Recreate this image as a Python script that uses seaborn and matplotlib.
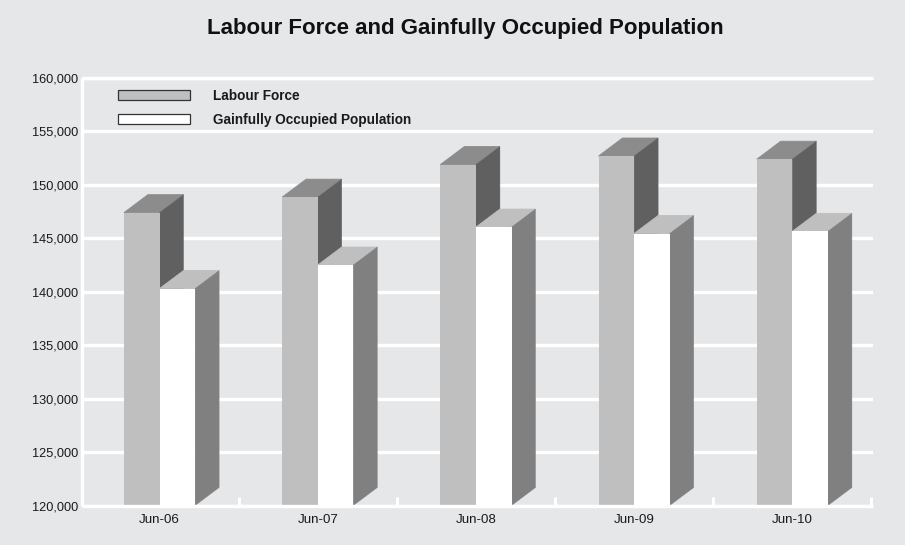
import matplotlib
matplotlib.use("Agg")
import matplotlib.pyplot as plt
from matplotlib.patches import Patch, Polygon
import pandas as pd
import seaborn as sns

periods = ["Jun-06", "Jun-07", "Jun-08", "Jun-09", "Jun-10"]
labour_force = [147400, 148850, 151900, 152700, 152400]
occupied = [140300, 142500, 146050, 145450, 145650]
series_names = ["Labour Force", "Gainfully Occupied Population"]

BG = "#e6e7e9"
FRONT = "#bfbfbf"
DEPTH_PX = (24, 18)

sns.set_theme(style="white")
plt.rcParams["font.family"] = ["Liberation Sans", "DejaVu Sans"]

df = pd.DataFrame({
    "period": periods * 2,
    "value": labour_force + occupied,
    "series": [series_names[0]] * 5 + [series_names[1]] * 5,
})

fig = plt.figure(figsize=(9.05, 5.45), dpi=100, facecolor=BG)
W, H = 905, 545
ax = fig.add_axes([82 / W, 1 - 505.5 / H, (873 - 82) / W, (505.5 - 78) / H], facecolor=BG)

sns.barplot(data=df, x="period", y="value", hue="series", hue_order=series_names,
            palette=[FRONT, "#ffffff"], saturation=1, width=0.45, linewidth=0,
            legend=False, ax=ax, zorder=3)
ax.set_xlim(-0.49, 4.51)
ax.set_ylim(120000, 160000)
ax.set_xlabel("")
ax.set_ylabel("")

dx = DEPTH_PX[0] * 5.0 / 791
dy = DEPTH_PX[1] * 40000 / 427.5


def extrude(bar, top_color, side_color, z):
    x0, x1 = bar.get_x(), bar.get_x() + bar.get_width()
    y0, y1 = 120000, bar.get_y() + bar.get_height()
    ax.add_patch(Polygon([(x0, y1), (x1, y1), (x1 + dx, y1 + dy), (x0 + dx, y1 + dy)],
                         closed=True, fc=top_color, ec=top_color, lw=0.6, zorder=z))
    ax.add_patch(Polygon([(x1, y0), (x1 + dx, y0 + dy), (x1 + dx, y1 + dy), (x1, y1)],
                         closed=True, fc=side_color, ec=side_color, lw=0.3, zorder=z))


for bar in ax.containers[0]:
    extrude(bar, "#8c8c8c", "#606060", 2.5)
for bar in ax.containers[1]:
    extrude(bar, FRONT, "#808080", 3.5)
for bar in ax.containers[1]:
    bar.set_zorder(4)

ax.set_yticks(range(120000, 160001, 5000))
ax.set_yticklabels([f"{v:,}" for v in range(120000, 160001, 5000)])
ax.set_xticks([i + 0.5 for i in range(5)], minor=True)
ax.grid(axis="y", color="white", linewidth=2.4, zorder=1)
ax.set_axisbelow(True)
ax.tick_params(axis="both", which="major", length=0, labelsize=9.2, labelcolor="#1a1a1a")
ax.tick_params(axis="y", pad=2.5)
ax.tick_params(axis="x", pad=6, labelsize=9.6)
ax.tick_params(axis="x", which="minor", bottom=True, direction="in", length=6.5, width=2.2, color="white")
for s in ["left", "bottom", "top"]:
    ax.spines[s].set_color("white")
    ax.spines[s].set_linewidth(2.4)
    ax.spines[s].set_capstyle("butt")
    ax.spines[s].set_zorder(5)
ax.spines["right"].set_visible(False)

handles = [Patch(fc=FRONT, ec="#333333", lw=0.9, label=series_names[0]),
           Patch(fc="white", ec="#333333", lw=0.9, label=series_names[1])]
leg = ax.legend(handles=handles, loc="upper left", bbox_to_anchor=(36 / 791, 1 - 11 / 427.5),
                frameon=False, borderpad=0, borderaxespad=0, handlelength=5.29, handleheight=0.74,
                handletextpad=1.69, labelspacing=0.7, prop={"size": 9.8, "weight": "bold"})
for t in leg.get_texts():
    t.set_color("#1a1a1a")

fig.text(465.5 / W, 1 - 28.5 / H, "Labour Force and Gainfully Occupied Population",
         ha="center", va="center", fontsize=16, fontweight="bold", color="#111111")

fig.savefig("out.png", dpi=100, facecolor=BG)
